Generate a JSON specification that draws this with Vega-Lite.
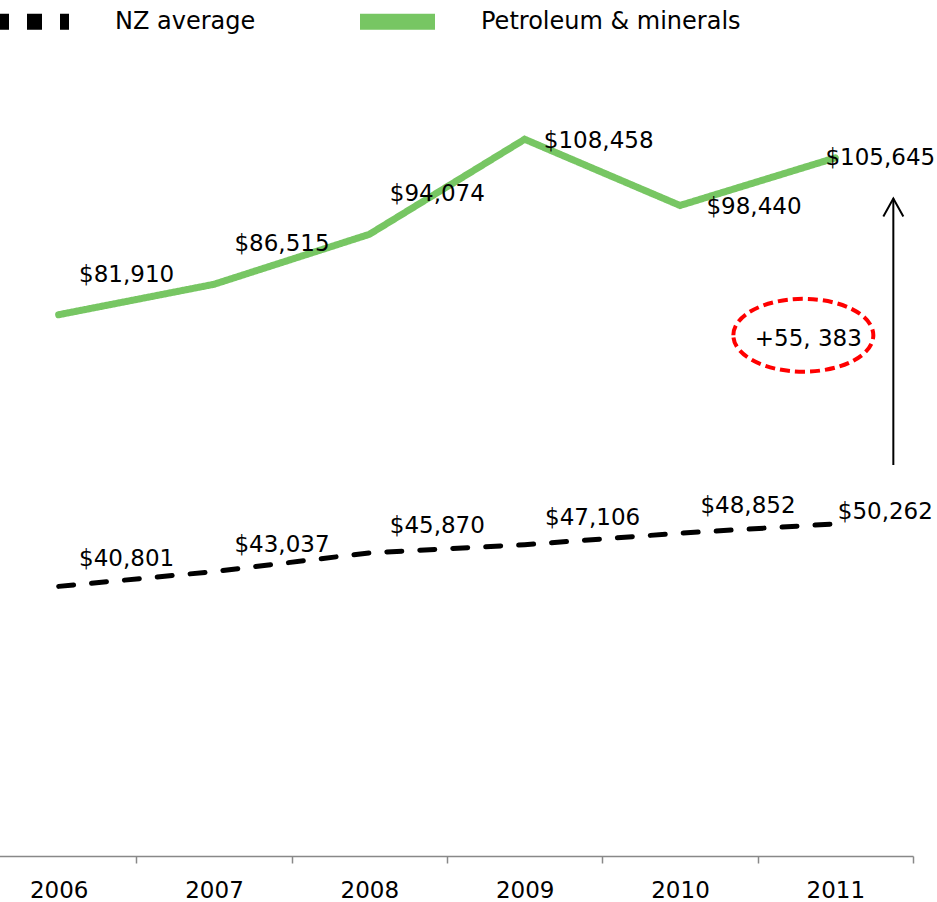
{
  "$schema": "https://vega.github.io/schema/vega-lite/v6.json",
  "autosize": "none",
  "padding": {"left": -19, "top": 63, "right": 24, "bottom": 46},
  "width": 932,
  "height": 793,
  "background": "white",
  "config": {
    "view": {"stroke": null},
    "font": "DejaVu Sans",
    "text": {"font": "DejaVu Sans", "fontSize": 23, "color": "#000000", "align": "center", "baseline": "middle"}
  },
  "datasets": {
    "series": [
      {"year": "2006", "series": "NZ average", "value": 40801},
      {"year": "2007", "series": "NZ average", "value": 43037},
      {"year": "2008", "series": "NZ average", "value": 45870},
      {"year": "2009", "series": "NZ average", "value": 47106},
      {"year": "2010", "series": "NZ average", "value": 48852},
      {"year": "2011", "series": "NZ average", "value": 50262},
      {"year": "2006", "series": "Petroleum & minerals", "value": 81910},
      {"year": "2007", "series": "Petroleum & minerals", "value": 86515},
      {"year": "2008", "series": "Petroleum & minerals", "value": 94074},
      {"year": "2009", "series": "Petroleum & minerals", "value": 108458},
      {"year": "2010", "series": "Petroleum & minerals", "value": 98440},
      {"year": "2011", "series": "Petroleum & minerals", "value": 105645}
    ],
    "arrow": [{"year": "2011", "from": 59150, "to": 99500}],
    "note": [{"year": "2011", "value": 78800, "label": "+55, 383"}]
  },
  "layer": [
    {
      "data": {"name": "series"},
      "transform": [{"filter": "datum.series === 'Petroleum & minerals'"}],
      "mark": {"type": "line", "strokeCap": "round", "strokeWidth": 7},
      "encoding": {
        "x": {
          "field": "year", "type": "ordinal",
          "scale": {"paddingInner": 0, "paddingOuter": 0},
          "axis": {
            "title": null, "labelAngle": 0, "domainColor": "#888888", "domainWidth": 1.5,
            "tickColor": "#888888", "tickWidth": 1.5, "tickSize": 7, "tickBand": "extent",
            "labelFont": "DejaVu Sans", "labelFontSize": 23, "labelColor": "#000000",
            "labelPadding": 16, "grid": false
          }
        },
        "y": {
          "field": "value", "type": "quantitative",
          "scale": {"domain": [0, 120000], "nice": false},
          "axis": null
        },
        "color": {
          "field": "series", "type": "nominal",
          "scale": {"domain": ["NZ average", "Petroleum & minerals"], "range": ["#000000", "#77C663"]},
          "legend": {
            "title": null, "orient": "none", "direction": "horizontal",
            "legendX": 5, "legendY": -87, "padding": 0,
            "symbolType": "stroke", "symbolSize": 5625, "symbolStrokeWidth": 12,
            "labelFont": "DejaVu Sans", "labelFontSize": 24, "labelColor": "#000000",
            "labelOffset": 38, "columnPadding": 72, "labelLimit": 400,
            "encode": {
              "symbols": {
                "update": {
                  "strokeWidth": {"condition": {"test": "datum.value === 'NZ average'", "value": 8}, "value": 16},
                  "strokeCap": {"value": "butt"}
                }
              }
            }
          }
        },
        "strokeDash": {
          "field": "series", "type": "nominal",
          "scale": {"domain": ["NZ average", "Petroleum & minerals"], "range": [[15, 18], [1, 0]]},
          "legend": null
        }
      }
    },
    {
      "data": {"name": "series"},
      "transform": [{"filter": "datum.series === 'NZ average'"}],
      "mark": {"type": "line", "strokeCap": "round", "strokeWidth": 5},
      "encoding": {
        "x": {"field": "year", "type": "ordinal"},
        "y": {"field": "value", "type": "quantitative"},
        "color": {"field": "series", "type": "nominal"},
        "strokeDash": {"field": "series", "type": "nominal", "legend": null}
      }
    },
    {
      "data": {"name": "series"},
      "transform": [{"filter": "datum.series === 'Petroleum & minerals' && datum.year <= '2008'"}],
      "mark": {"type": "text", "dx": 68, "dy": -40},
      "encoding": {
        "x": {"field": "year", "type": "ordinal"},
        "y": {"field": "value", "type": "quantitative"},
        "text": {"field": "value", "type": "quantitative", "format": "$,.0f"}
      }
    },
    {
      "data": {"name": "series"},
      "transform": [{"filter": "datum.series === 'Petroleum & minerals' && (datum.year === '2009' || datum.year === '2010')"}],
      "mark": {"type": "text", "dx": 74, "dy": 2},
      "encoding": {
        "x": {"field": "year", "type": "ordinal"},
        "y": {"field": "value", "type": "quantitative"},
        "text": {"field": "value", "type": "quantitative", "format": "$,.0f"}
      }
    },
    {
      "data": {"name": "series"},
      "transform": [{"filter": "datum.series === 'Petroleum & minerals' && datum.year === '2011'"}],
      "mark": {"type": "text", "dx": 45, "dy": 0},
      "encoding": {
        "x": {"field": "year", "type": "ordinal"},
        "y": {"field": "value", "type": "quantitative"},
        "text": {"field": "value", "type": "quantitative", "format": "$,.0f"}
      }
    },
    {
      "data": {"name": "series"},
      "transform": [{"filter": "datum.series === 'NZ average' && datum.year !== '2011'"}],
      "mark": {"type": "text", "dx": 68, "dy": -27},
      "encoding": {
        "x": {"field": "year", "type": "ordinal"},
        "y": {"field": "value", "type": "quantitative"},
        "text": {"field": "value", "type": "quantitative", "format": "$,.0f"}
      }
    },
    {
      "data": {"name": "series"},
      "transform": [{"filter": "datum.series === 'NZ average' && datum.year === '2011'"}],
      "mark": {"type": "text", "dx": 50, "dy": -12},
      "encoding": {
        "x": {"field": "year", "type": "ordinal"},
        "y": {"field": "value", "type": "quantitative"},
        "text": {"field": "value", "type": "quantitative", "format": "$,.0f"}
      }
    },
    {
      "data": {"name": "arrow"},
      "mark": {"type": "rule", "xOffset": 58, "strokeWidth": 2, "color": "#000000"},
      "encoding": {
        "x": {"field": "year", "type": "ordinal"},
        "y": {"field": "from", "type": "quantitative"},
        "y2": {"field": "to"}
      }
    },
    {
      "data": {"name": "arrow"},
      "mark": {"type": "point", "xOffset": 58, "shape": "M-1,1.8L0,0L1,1.8", "size": 400, "filled": false, "strokeWidth": 2, "color": "#000000", "opacity": 1},
      "encoding": {
        "x": {"field": "year", "type": "ordinal"},
        "y": {"field": "to", "type": "quantitative"}
      }
    },
    {
      "data": {"name": "note"},
      "mark": {"type": "point", "xOffset": -32, "shape": "M-1,0A1,0.52,0,1,1,1,0A1,0.52,0,1,1,-1,0Z", "size": 19600, "filled": false, "strokeWidth": 4, "strokeDash": [10, 5], "color": "#FF0000", "opacity": 1},
      "encoding": {
        "x": {"field": "year", "type": "ordinal"},
        "y": {"field": "value", "type": "quantitative"}
      }
    },
    {
      "data": {"name": "note"},
      "mark": {"type": "text", "xOffset": -27, "dy": 4},
      "encoding": {
        "x": {"field": "year", "type": "ordinal"},
        "y": {"field": "value", "type": "quantitative"},
        "text": {"field": "label", "type": "nominal"}
      }
    }
  ]
}
